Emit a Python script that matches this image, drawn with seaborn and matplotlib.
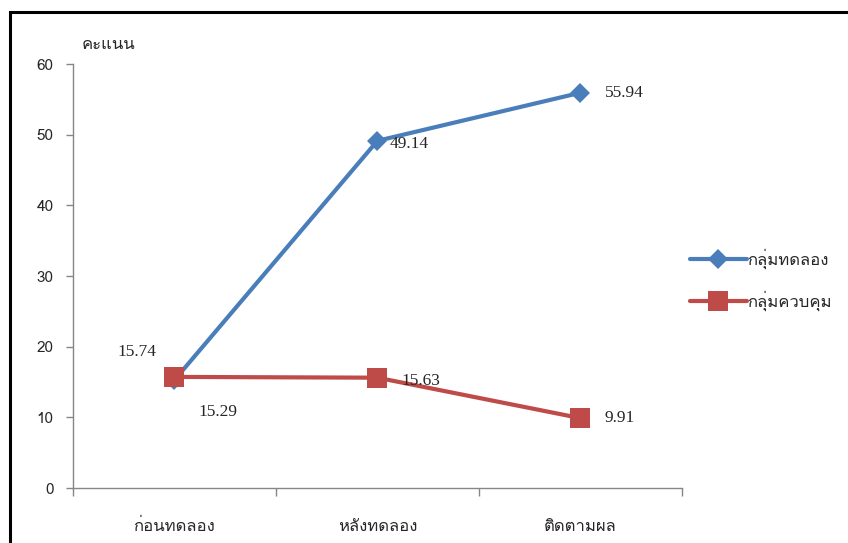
import glob
import matplotlib
matplotlib.use("Agg")
import matplotlib.pyplot as plt
from matplotlib import font_manager
import matplotlib.patches as patches
import seaborn as sns
import pandas as pd

# data
phases = ['ก่อนทดลอง', 'หลังทดลอง', 'ติดตามผล']
experimental = [15.29, 49.14, 55.94]
control = [15.74, 15.63, 9.91]
group_names = ['กลุ่มทดลอง', 'กลุ่มควบคุม']

# thai font (Loma, tahoma-like)
thai = 'DejaVu Sans'
for p in glob.glob('/usr/share/fonts/**/Loma.otf', recursive=True):
    font_manager.fontManager.addfont(p)
    thai = font_manager.FontProperties(fname=p).get_name()

sns.set_style('white')
plt.rcParams['font.family'] = [thai, 'DejaVu Sans']

df = pd.DataFrame({
    'phase': phases * 2,
    'score': experimental + control,
    'group': [group_names[0]] * 3 + [group_names[1]] * 3,
})

blue = '#4A7EBB'
red = '#BE4B48'

fig = plt.figure(figsize=(8.48, 5.43), dpi=100)
ax = fig.add_axes([0.086, 0.101, 0.718, 0.781])

sns.lineplot(data=df, x='phase', y='score', hue='group', style='group',
             hue_order=group_names, style_order=group_names,
             palette=[blue, red], markers={group_names[0]: 'D', group_names[1]: 's'},
             dashes=False, linewidth=3, markeredgewidth=0, ax=ax, sort=False)
for line, ms in zip(ax.lines[:2], [10, 14]):
    line.set_markersize(ms)

ax.set_xlim(-0.5, 2.5)
ax.set_ylim(0, 60)
ax.set_yticks(range(0, 61, 10))
ax.set_xticks([-0.5, 0.5, 1.5, 2.5], minor=False)
ax.set_xticklabels([])
ax.set_xticks([0, 1, 2], minor=True)
ax.set_xticklabels(phases, minor=True, fontsize=12)
ax.tick_params(axis='x', which='minor', bottom=False, length=0, pad=22)
ax.tick_params(axis='x', which='major', bottom=True, length=6, width=1,
               color='#868686', direction='out')
ax.tick_params(axis='y', left=True, length=5, width=1, color='#868686',
               direction='out', labelsize=11, pad=9)
ax.set_xlabel('')
ax.set_ylabel('')
for s in ['top', 'right']:
    ax.spines[s].set_visible(False)
for s in ['left', 'bottom']:
    ax.spines[s].set_color('#868686')
    ax.spines[s].set_linewidth(1)

ax.text(0.015, 1.025, 'คะแนน', transform=ax.transAxes, fontsize=12, ha='left', va='bottom')

# data labels
serif = ['Liberation Serif', 'DejaVu Serif']
offsets_exp = [(0.12, -4.5), (0.06, -0.5), (0.12, 0.0)]
offsets_ctl = [(-0.28, 3.5), (0.12, -0.4), (0.12, 0.0)]
for i, v in enumerate(experimental):
    dx, dy = offsets_exp[i]
    ax.text(i + dx, v + dy, f'{v:.2f}', family=serif, fontsize=12.5, va='center', ha='left')
for i, v in enumerate(control):
    dx, dy = offsets_ctl[i]
    ax.text(i + dx, v + dy, f'{v:.2f}', family=serif, fontsize=12.5, va='center', ha='left')

ax.get_legend().remove()
handles = ax.lines[:2]
fig.legend(handles, group_names, loc='center left', bbox_to_anchor=(0.796, 0.485),
           frameon=False, fontsize=12, handlelength=3.4, handletextpad=0.0,
           labelspacing=1.3)

# outer frame
fig.patches.append(patches.Rectangle((10 / 848, -0.1), 1.2, 1.1 - 12 / 543,
                                     transform=fig.transFigure, fill=False,
                                     edgecolor='black', linewidth=2.2))

fig.savefig('out.png', dpi=100)
